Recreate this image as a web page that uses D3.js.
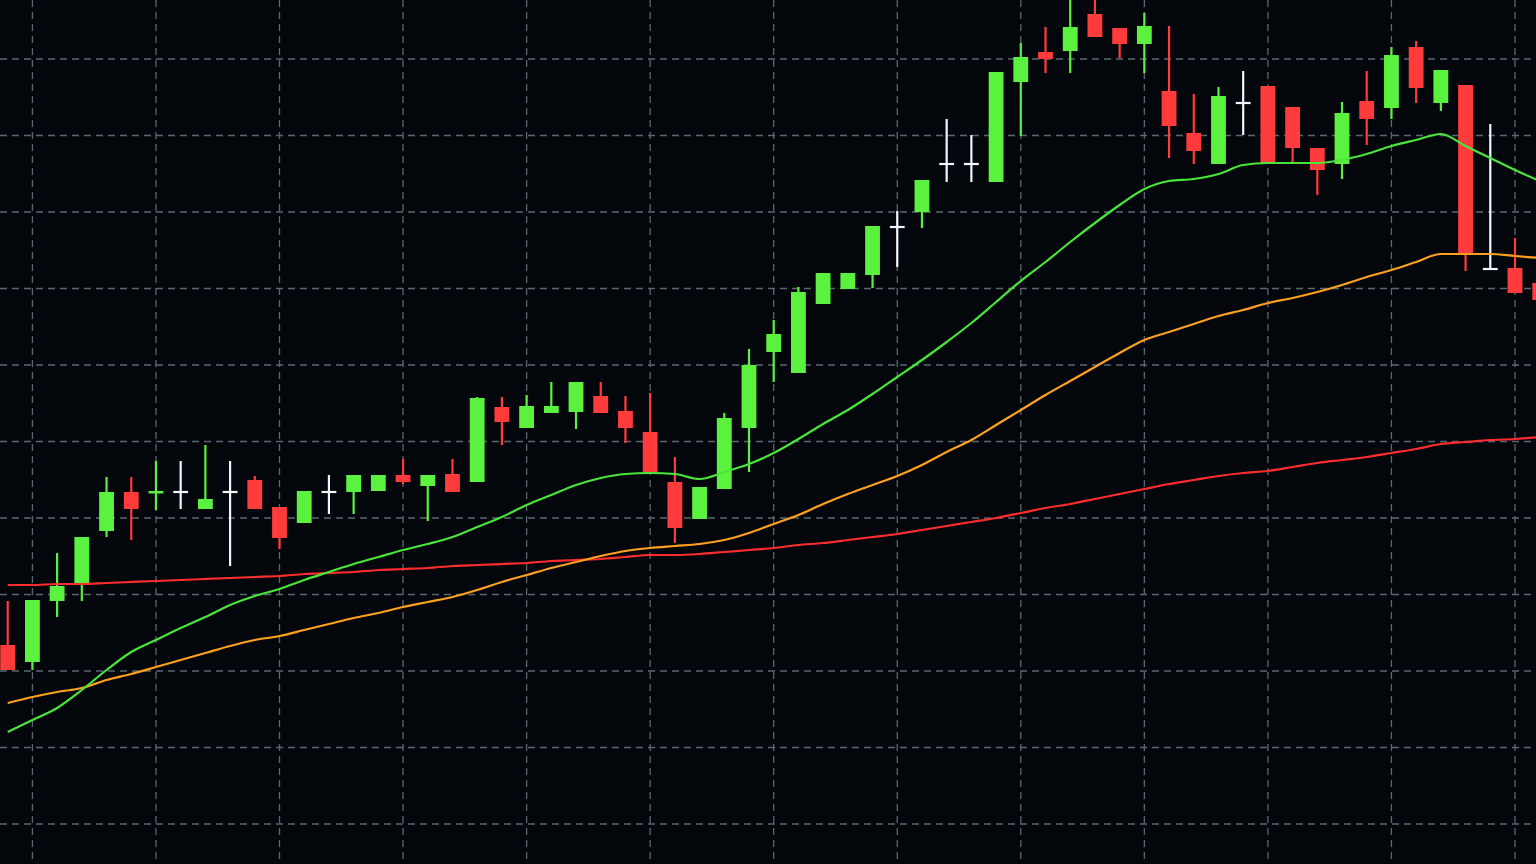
<!DOCTYPE html>
<html>
<head>
<meta charset="utf-8">
<script src="https://cdn.jsdelivr.net/npm/d3@7"></script>
<style>
html,body{margin:0;padding:0;background:#03060b;overflow:hidden}
svg{display:block}
</style>
</head>
<body>
<svg id="chart" width="1536" height="864"></svg>
<script>
// ---- Data (prices) ----
const open  = [1.1219,1.1202,1.1263,1.1280,1.1333,1.1372,1.1371,1.1372,1.1355,1.1372,
               1.1384,1.1357,1.1341,1.1372,1.1372,1.1373,1.1389,1.1378,1.1390,1.1382,
               1.1457,1.1436,1.1451,1.1452,1.1468,1.1453,1.1432,1.1382,1.1345,1.1375,
               1.1436,1.1512,1.1491,1.1560,1.1575,1.1589,1.1637,1.1652,1.1700,1.1700,
               1.1682,1.1782,1.1812,1.1813,1.1850,1.1836,1.1820,1.1773,1.1731,1.1700,
               1.1761,1.1778,1.1757,1.1716,1.1700,1.1763,1.1756,1.1817,1.1761,1.1779,
               1.1595,1.1596,1.1581];
const high  = [1.1263,1.1264,1.1311,1.1327,1.1387,1.1387,1.1403,1.1403,1.1419,1.1403,
               1.1388,1.1357,1.1373,1.1389,1.1389,1.1389,1.1405,1.1389,1.1405,1.1467,
               1.1467,1.1469,1.1482,1.1482,1.1482,1.1468,1.1471,1.1407,1.1377,1.1451,
               1.1515,1.1544,1.1577,1.1591,1.1591,1.1638,1.1653,1.1684,1.1745,1.1729,
               1.1792,1.1821,1.1837,1.1869,1.1869,1.1836,1.1851,1.1838,1.1770,1.1777,
               1.1793,1.1778,1.1757,1.1716,1.1762,1.1793,1.1817,1.1823,1.1794,1.1779,
               1.1740,1.1626,1.1581];
const low   = [1.1194,1.1194,1.1247,1.1263,1.1327,1.1324,1.1354,1.1355,1.1355,1.1298,
               1.1355,1.1315,1.1341,1.1350,1.1350,1.1373,1.1380,1.1343,1.1372,1.1382,
               1.1419,1.1436,1.1451,1.1435,1.1451,1.1421,1.1391,1.1321,1.1345,1.1375,
               1.1392,1.1482,1.1491,1.1560,1.1575,1.1576,1.1597,1.1636,1.1682,1.1682,
               1.1682,1.1728,1.1791,1.1791,1.1827,1.1806,1.1791,1.1706,1.1700,1.1700,
               1.1729,1.1700,1.1701,1.1669,1.1685,1.1719,1.1745,1.1761,1.1753,1.1593,
               1.1595,1.1571,1.1564];
const close = [1.1194,1.1264,1.1278,1.1327,1.1372,1.1355,1.1373,1.1372,1.1365,1.1372,
               1.1355,1.1326,1.1373,1.1372,1.1389,1.1389,1.1382,1.1389,1.1372,1.1466,
               1.1442,1.1458,1.1458,1.1482,1.1451,1.1436,1.1391,1.1336,1.1377,1.1446,
               1.1499,1.1530,1.1572,1.1591,1.1591,1.1638,1.1637,1.1684,1.1700,1.1700,
               1.1792,1.1807,1.1805,1.1837,1.1827,1.1820,1.1838,1.1738,1.1713,1.1768,
               1.1761,1.1700,1.1716,1.1694,1.1751,1.1745,1.1809,1.1776,1.1794,1.1609,
               1.1595,1.1571,1.1564];

// moving averages (one value per bar)
const maFast = [1.1132,1.1144,1.1156,1.1174,1.1194,1.1212,1.1224,1.1236,1.1247,1.1259,
                1.1268,1.1275,1.1284,1.1292,1.1300,1.1307,1.1314,1.1320,1.1327,1.1337,
                1.1347,1.1359,1.1369,1.1379,1.1386,1.1390,1.1391,1.1390,1.1385,1.1392,
                1.1400,1.1411,1.1425,1.1440,1.1454,1.1470,1.1487,1.1504,1.1522,1.1541,
                1.1562,1.1583,1.1602,1.1622,1.1641,1.1659,1.1675,1.1683,1.1685,1.1690,
                1.1699,1.1701,1.1701,1.1701,1.1704,1.1710,1.1718,1.1724,1.1730,1.1718,
                1.1706,1.1694,1.1683];
const maMid  = [1.1161,1.1167,1.1172,1.1176,1.1184,1.1190,1.1197,1.1204,1.1211,1.1218,
                1.1224,1.1228,1.1234,1.1240,1.1246,1.1251,1.1257,1.1262,1.1267,1.1274,
                1.1282,1.1289,1.1296,1.1302,1.1308,1.1313,1.1316,1.1318,1.1320,1.1324,
                1.1331,1.1340,1.1349,1.1360,1.1370,1.1379,1.1388,1.1399,1.1412,1.1424,
                1.1439,1.1454,1.1469,1.1483,1.1497,1.1511,1.1524,1.1532,1.1540,1.1548,
                1.1554,1.1561,1.1566,1.1572,1.1579,1.1587,1.1594,1.1602,1.1610,1.1610,
                1.1610,1.1608,1.1606];
const maSlow = [1.1279,1.1279,1.1280,1.1280,1.1281,1.1282,1.1283,1.1284,1.1285,1.1286,
                1.1287,1.1288,1.1290,1.1291,1.1292,1.1294,1.1295,1.1296,1.1298,1.1299,
                1.1300,1.1301,1.1303,1.1304,1.1305,1.1307,1.1309,1.1309,1.1310,1.1312,
                1.1314,1.1316,1.1319,1.1321,1.1324,1.1327,1.1330,1.1334,1.1338,1.1342,
                1.1346,1.1351,1.1356,1.1360,1.1365,1.1370,1.1375,1.1380,1.1384,1.1388,
                1.1391,1.1393,1.1397,1.1401,1.1404,1.1407,1.1411,1.1415,1.1420,1.1422,
                1.1424,1.1425,1.1427];

// grid ticks: bar indices (vertical) and price levels (horizontal)
const gridBars   = [1,6,11,16,21,26,31,36,41,46,51,56,61];
const gridPrices = [1.1040,1.11165,1.1193,1.12695,1.1346,1.14225,1.1499,1.15755,1.1652,1.17285,1.1805];

// ---- Drawing ----
const W = 1536, H = 864;
const svg = d3.select("#chart");
const bars = d3.range(open.length);

const x = d3.scaleLinear().domain([0, bars.length - 1]).range([7.7, 1539.7]);
const y = d3.scaleLinear().domain([1.1000, 1.1864]).range([H, 0]);
const step = x(1) - x(0);
const bodyW = step * 0.6;

const C = {
  bg: "#03060b",
  grid: "#8ea5b0",
  up: "#5af23e",
  down: "#ff3b3b",
  doji: "#f2f5ff",
  maFast: "#4ae53b",
  maMid: "#ffa11f",
  maSlow: "#ff2d2d"
};

svg.append("rect").attr("width", W).attr("height", H).attr("fill", C.bg);

// grid
const grid = svg.append("g").attr("stroke", C.grid).attr("stroke-width", 1.3)
  .attr("stroke-dasharray", "7 5").attr("opacity", 0.62);
grid.selectAll("line.v").data(gridBars).join("line").attr("class", "v")
  .attr("x1", d => x(d)).attr("x2", d => x(d)).attr("y1", 0).attr("y2", H);
grid.selectAll("line.h").data(gridPrices).join("line").attr("class", "h")
  .attr("x1", 0).attr("x2", W).attr("y1", d => y(d)).attr("y2", d => y(d));

// candles
const candles = bars.map(i => ({i, o: open[i], h: high[i], l: low[i], c: close[i]}));
const colorOf = d => Math.abs(d.c - d.o) < 1e-9 ? C.doji : (d.c > d.o ? C.up : C.down);

const g = svg.append("g");
g.selectAll("line.wick").data(candles).join("line").attr("class", "wick")
  .attr("x1", d => x(d.i)).attr("x2", d => x(d.i))
  .attr("y1", d => y(d.h)).attr("y2", d => y(d.l))
  .attr("stroke", colorOf).attr("stroke-width", 2.2);

g.selectAll("rect.body").data(candles.filter(d => Math.abs(d.c - d.o) >= 1e-9)).join("rect")
  .attr("class", "body")
  .attr("x", d => x(d.i) - bodyW / 2).attr("width", bodyW)
  .attr("y", d => y(Math.max(d.o, d.c)))
  .attr("height", d => Math.max(2.5, y(Math.min(d.o, d.c)) - y(Math.max(d.o, d.c))))
  .attr("fill", colorOf);

g.selectAll("line.doji").data(candles.filter(d => Math.abs(d.c - d.o) < 1e-9)).join("line")
  .attr("class", "doji")
  .attr("x1", d => x(d.i) - bodyW / 2).attr("x2", d => x(d.i) + bodyW / 2)
  .attr("y1", d => y(d.o)).attr("y2", d => y(d.o))
  .attr("stroke", C.doji).attr("stroke-width", 2.2);

// moving averages
const line = d3.line().x((d, i) => x(i)).y(d => y(d)).curve(d3.curveMonotoneX);
[[maSlow, C.maSlow], [maMid, C.maMid], [maFast, C.maFast]].forEach(([s, col]) => {
  svg.append("path").datum(s).attr("d", line).attr("fill", "none")
    .attr("stroke", col).attr("stroke-width", 2.2).attr("stroke-linejoin", "round");
});
</script>
</body>
</html>
